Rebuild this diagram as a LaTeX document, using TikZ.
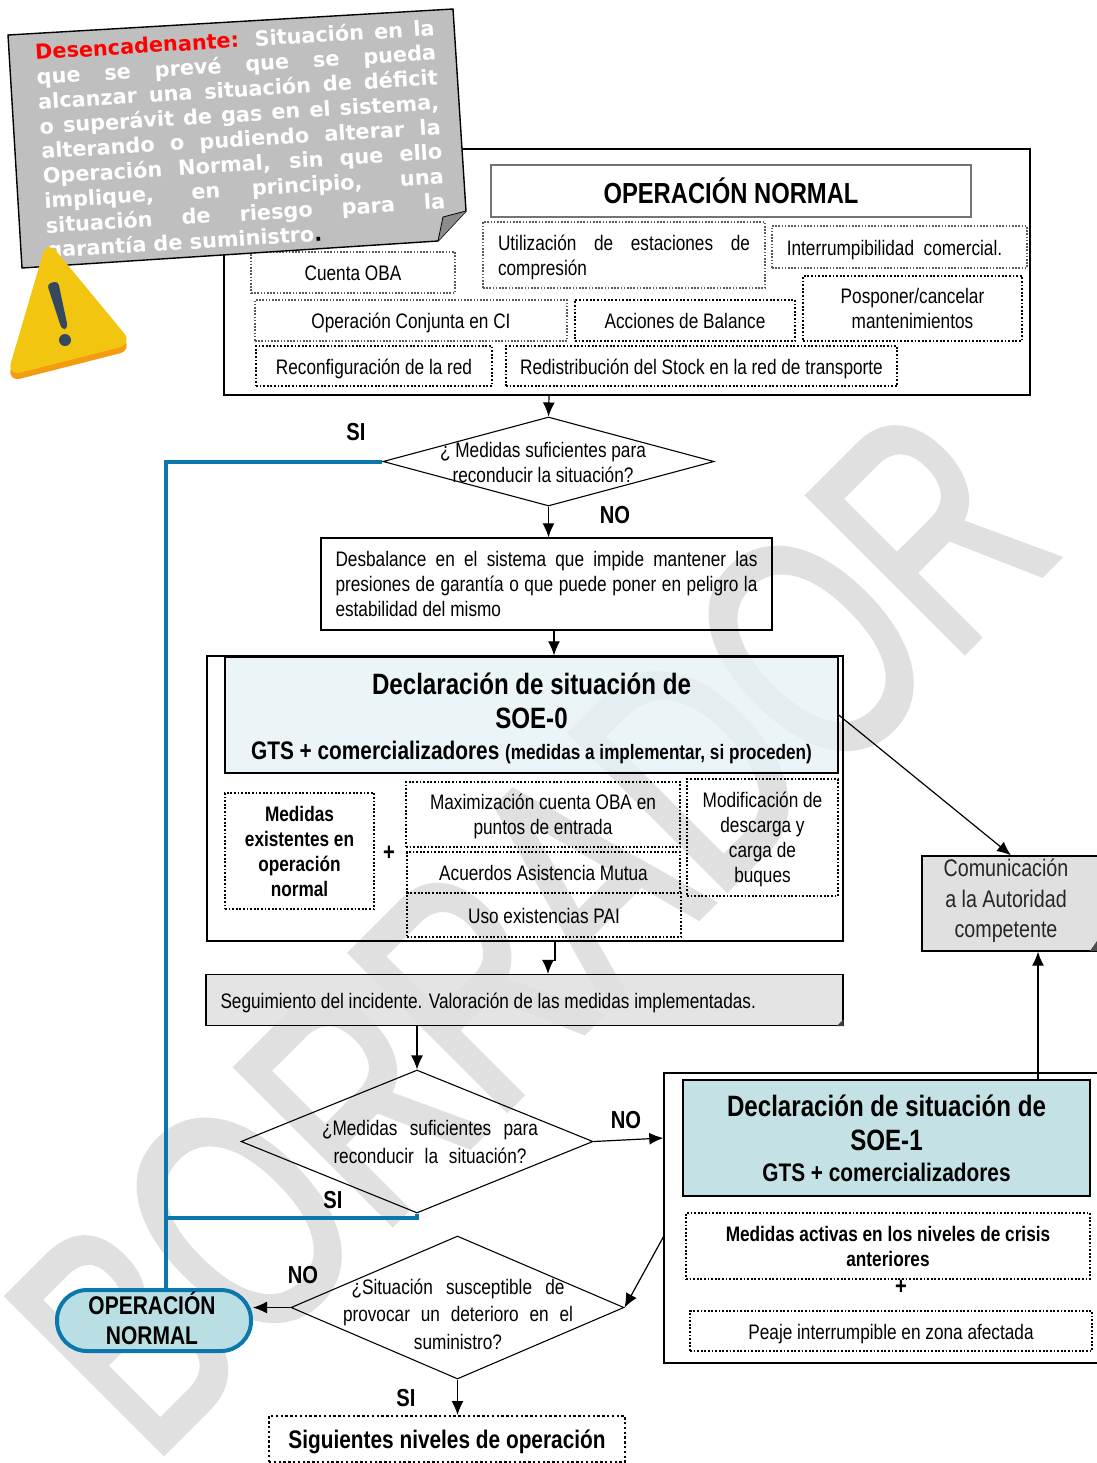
\documentclass[tikz,border=0pt]{standalone}
\usepackage{fontspec}
\usepackage{amsmath,amssymb}
\usetikzlibrary{arrows.meta,shapes.geometric}
\setmainfont{Liberation Sans}[FakeStretch=.82]
\newfontfamily\notefont{DejaVu Sans}
\newfontfamily\wmfont{Liberation Sans}[FakeBold=2]
\definecolor{bluel}{HTML}{0A78AD}
\definecolor{wmgray}{HTML}{E0E0E0}
\definecolor{notegray}{HTML}{BFBFBF}
\definecolor{soezfill}{HTML}{E6F2F4}
\definecolor{soeufill}{HTML}{C4E2E5}
\definecolor{opnfill}{HTML}{B9DFE4}
\definecolor{warnyel}{HTML}{F2C511}
\definecolor{warnora}{HTML}{F39C12}
\definecolor{warnblu}{HTML}{34495E}
\newcommand{\topup}{\rule{0pt}{10pt}}
\newcommand{\topbig}{\rule{0pt}{14.5pt}}
\tikzset{
  txt/.style={font=\fontsize{10.5}{12.5}\selectfont,align=center,inner sep=0pt},
  one/.style={text height=10.2pt,text depth=2pt},
  outerbox/.style={draw,line width=.7pt,inner sep=0pt},
  dotgray/.style={draw=black!65,line width=.55pt,dash pattern=on .8pt off .8pt,inner sep=0pt},
  dotdark/.style={draw=black,line width=.75pt,dash pattern=on .9pt off .9pt,inner sep=0pt},
  dec/.style={draw,diamond,line width=.55pt,inner sep=0pt},
  arr/.style={-{Latex[length=7pt,width=6pt]},line width=.6pt},
  bline/.style={draw=bluel,line width=2pt},
  lab/.style={font=\fontsize{12.3}{13}\bfseries\selectfont,inner sep=0pt},
  bigt/.style={font=\fontsize{14.7}{17}\bfseries\selectfont,align=center,inner sep=0pt},
}
\begin{document}
\begin{tikzpicture}[x=.5pt,y=-.5pt]
\clip[use as bounding box](0,0)rectangle(1097,1463);
\fill[white](0,0)rectangle(1097,1463);
\node[wmgray,inner sep=0pt,rotate=45,xscale=.70,yscale=1,transform shape,font=\wmfont\fontsize{160}{160}\selectfont](wm)at(530,930){BORRADOR};
% bloque de operacion normal
\node[outerbox,minimum width=403pt,minimum height=123pt](normal)at(627,272){};
\node[draw=black!55,line width=.7pt,inner sep=0pt,minimum width=240pt,minimum height=26pt,font=\fontsize{14.5}{16}\bfseries\selectfont](title)at(731,191){OPERACIÓN NORMAL};
\node[txt,dotgray,minimum width=141pt,minimum height=33pt](util)at(624,255){\topup\makebox[126pt][s]{Utilización de estaciones de}\\\makebox[126pt][l]{compresión}};
\node[txt,one,dotgray,minimum width=127.5pt,minimum height=21pt](inter)at(899.5,247){Interrumpibilidad~~comercial.\hspace*{5pt}};
\node[txt,dotdark,minimum width=109.5pt,minimum height=32.5pt](pospo)at(912.5,308.5){Posponer/cancelar\\mantenimientos};
\node[txt,one,dotgray,minimum width=102pt,minimum height=20.5pt](cuenta)at(353,272.5){Cuenta OBA};
\node[txt,one,dotgray,minimum width=156pt,minimum height=20.5pt](conj)at(411,320.5){Operación Conjunta en CI};
\node[txt,one,dotdark,minimum width=110pt,minimum height=20.5pt](acc)at(685,320.5){Acciones de Balance};
\node[txt,one,dotdark,minimum width=118pt,minimum height=20pt](recon)at(374,366){Reconfiguración de la red};
\node[txt,one,dotdark,minimum width=195.5pt,minimum height=20pt](redis)at(701.5,366){Redistribución del Stock en la red de transporte};
% primera decision
\node[dec,minimum width=165.5pt,minimum height=44.5pt](dmed)at(548.5,461.5){};
\node[txt](dmedtxt)at(543,462){¿ Medidas suficientes para\\reconducir la situación?};
\node[txt,draw,line width=.7pt,minimum width=225.5pt,minimum height=46pt](desb)at(546.5,584){\makebox[211pt][s]{Desbalance en el sistema que impide mantener las}\\\makebox[211pt][s]{presiones de garantía o que puede poner en peligro la}\\\makebox[211pt][l]{estabilidad del mismo}};
% SOE-0
\node[outerbox,minimum width=318pt,minimum height=142.5pt](soezout)at(525,798.5){};
\node[draw,bigt,line width=.7pt,fill=soezfill,fill opacity=.8,text opacity=1,minimum width=306.5pt,minimum height=58pt](soez)at(531.5,715){\topbig Declaración de situación de\\SOE-0\\[-1.5pt]\fontsize{12.7}{14}\selectfont GTS + comercializadores \fontsize{10.45}{14}\selectfont(medidas a implementar, si proceden)};
\node[txt,dotdark,font=\fontsize{10.5}{12.5}\bfseries\selectfont,minimum width=74.5pt,minimum height=58pt](medz)at(299.5,851){Medidas\\existentes en\\operación\\normal};
\node[lab](pluz)at(389,853){+};
\node[txt,dotdark,minimum width=137pt,minimum height=32.5pt](maxi)at(543,814.5){\topup Maximización cuenta OBA en\\puntos de entrada};
\node[txt,one,dotdark,minimum width=136.5pt,minimum height=20.5pt](acue)at(543.5,872.5){Acuerdos Asistencia Mutua};
\node[txt,one,dotdark,minimum width=137pt,minimum height=22pt](uso)at(544,915){Uso existencias PAI};
\node[txt,dotdark,minimum width=75.5pt,minimum height=58.5pt](modi)at(762.5,837.5){\topup Modificación de\\descarga y\\carga de\\buques};
% comunicacion
\node[draw,line width=.7pt,fill=wmgray,inner sep=0pt,minimum width=89pt,minimum height=47.5pt](comu)at(1011,903.5){};
\node[txt,font=\fontsize{12}{15.2}\selectfont,text=black!85](comutxt)at(1006,901){Comunicación\\a la Autoridad\\competente};
\fill[black!70](1090,951)--(1097,941)--(1097,951)--cycle;
% seguimiento
\node[draw,txt,one,line width=.7pt,fill=wmgray,fill opacity=.85,text opacity=1,minimum width=318.5pt,minimum height=25.5pt](segu)at(524.5,1000){\makebox[304pt][l]{Seguimiento del incidente. Valoración de las medidas implementadas.}};
\fill[black!75]([xshift=-3.5pt]segu.south east)--([yshift=3.5pt]segu.south east)--(segu.south east)--cycle;
% segunda decision
\node[dec,minimum width=176pt,minimum height=71.5pt](dsuf)at(417,1141.5){};
\node[txt,font=\fontsize{10.5}{14}\selectfont](dsuftxt)at(430,1142){\makebox[108pt][s]{¿Medidas suficientes para}\\\makebox[96.5pt][s]{reconducir la situación?}};
% SOE-1
\node[outerbox,minimum width=220pt,minimum height=145pt](soeuout)at(884,1218){};
\node[draw,bigt,line width=.8pt,fill=soeufill,minimum width=203.5pt,minimum height=58pt](soeu)at(886.5,1138){Declaración de situación de\\SOE-1\\[-1.5pt]\fontsize{12.7}{14}\selectfont GTS + comercializadores};
\node[txt,dotdark,font=\fontsize{10.5}{12.5}\bfseries\selectfont,minimum width=202pt,minimum height=33pt](medu)at(888,1246){Medidas activas en los niveles de crisis\\anteriores};
\node[lab](pluu)at(901,1287){+};
\node[txt,one,dotdark,minimum width=201pt,minimum height=20pt](peaj)at(891,1331){Peaje interrumpible en zona afectada};
% tercera decision y salidas
\node[dec,minimum width=166.5pt,minimum height=71.5pt](dsit)at(457.5,1307.5){};
\node[txt,font=\fontsize{10.5}{13.7}\selectfont](dsittxt)at(458,1314){\makebox[106.5pt][s]{¿Situación susceptible de}\\\makebox[115pt][s]{provocar un deterioro en el}\\suministro?};
\node[draw=bluel,line width=2pt,fill=opnfill,rounded corners=15pt,inner sep=0pt,minimum width=97pt,minimum height=30.5pt](opn)at(154,1320.5){};
\node[inner sep=0pt,align=center,font=\fontsize{12.8}{15}\bfseries\selectfont](opntxt)at(152,1318){OPERACIÓN\\NORMAL};
\node[draw,line width=1pt,dash pattern=on 1.2pt off 1.2pt,inner sep=0pt,minimum width=178pt,minimum height=23pt,text height=12pt,text depth=2.4pt,font=\fontsize{12.7}{14}\bfseries\selectfont](sigu)at(447,1439){Siguientes niveles de operación};
\node[lab](si1)at(356,432){SI};
\node[lab](no1)at(615,515){NO};
\node[lab](no2)at(626,1120){NO};
\node[lab](si2)at(333,1200){SI};
\node[lab](no3)at(303,1275){NO};
\node[lab](si3)at(406,1398){SI};
% conectores
\coordinate(bl)at(166,1290);
\coordinate(bm)at(166,1218);
\draw[bline](dmed.west)-|(bl);
\draw[bline](dsuf.south)|-(bm);
\draw[arr]([xshift=-39pt]normal.south)--(dmed.north);
\draw[arr](dmed.south)--(dmed.south|-desb.north);
\draw[arr]([xshift=3.75pt]desb.south)--([xshift=14.5pt]soezout.north);
\draw[arr](soez.east)--(comu.north);
\draw[arr]([xshift=15pt]soezout.south)--++(0,-9.5pt)--++(-3.5pt,0)--([xshift=11.75pt]segu.north);
\draw[arr](segu.south-|dsuf.north)--(dsuf.north);
\draw[arr](dsuf.east)--([yshift=40pt]soeuout.west);
\draw[arr]([xshift=75.75pt]soeu.north)--([xshift=13.5pt]comu.south);
\draw[arr]([yshift=-9.5pt]soeuout.west)--(dsit.east);
\draw[arr](dsit.west)--(dsit.west-|opn.east);
\draw[arr](dsit.south)--(dsit.south|-sigu.north);
% nota del desencadenante
\draw[line width=.7pt,fill=notegray](8,35)--(453,9)--(466,211)--(438,241)--(22,268)--cycle;
\fill[black!45](466,211)--(438,241)--(443,217)--cycle;
\draw[line width=.4pt](466,211)--(443,217)--(438,241);
\node[rotate=3.5,inner sep=0pt,align=left,white,font=\notefont\fontsize{10.4}{12.4}\bfseries\selectfont](trigtxt)at(241,140.5){\makebox[200pt][s]{\textcolor{red}{Desencadenante:} Situación en la}\\\makebox[200pt][s]{que se prevé que se pueda}\\\makebox[200pt][s]{alcanzar una situación de déficit}\\\makebox[200pt][s]{o superávit de gas en el sistema,}\\\makebox[200pt][s]{alterando o pudiendo alterar la}\\\makebox[200pt][s]{Operación Normal, sin que ello}\\\makebox[200pt][s]{implique, en principio, una}\\\makebox[200pt][s]{situación de riesgo para la}\\\makebox[200pt][l]{garantía de suministro\textcolor{black}{.}}};
% triangulo de aviso
\fill[warnora,rounded corners=7pt](47,245)--(133,350)--(7,382)--cycle;
\fill[warnyel,rounded corners=7pt](47,240)--(133,344)--(7,376)--cycle;
\fill[warnblu,rounded corners=2pt](47,284)--(58,281)--(68,328)--(62,330)--cycle;
\fill[warnblu](65,340)circle(6);
\end{tikzpicture}
\end{document}
